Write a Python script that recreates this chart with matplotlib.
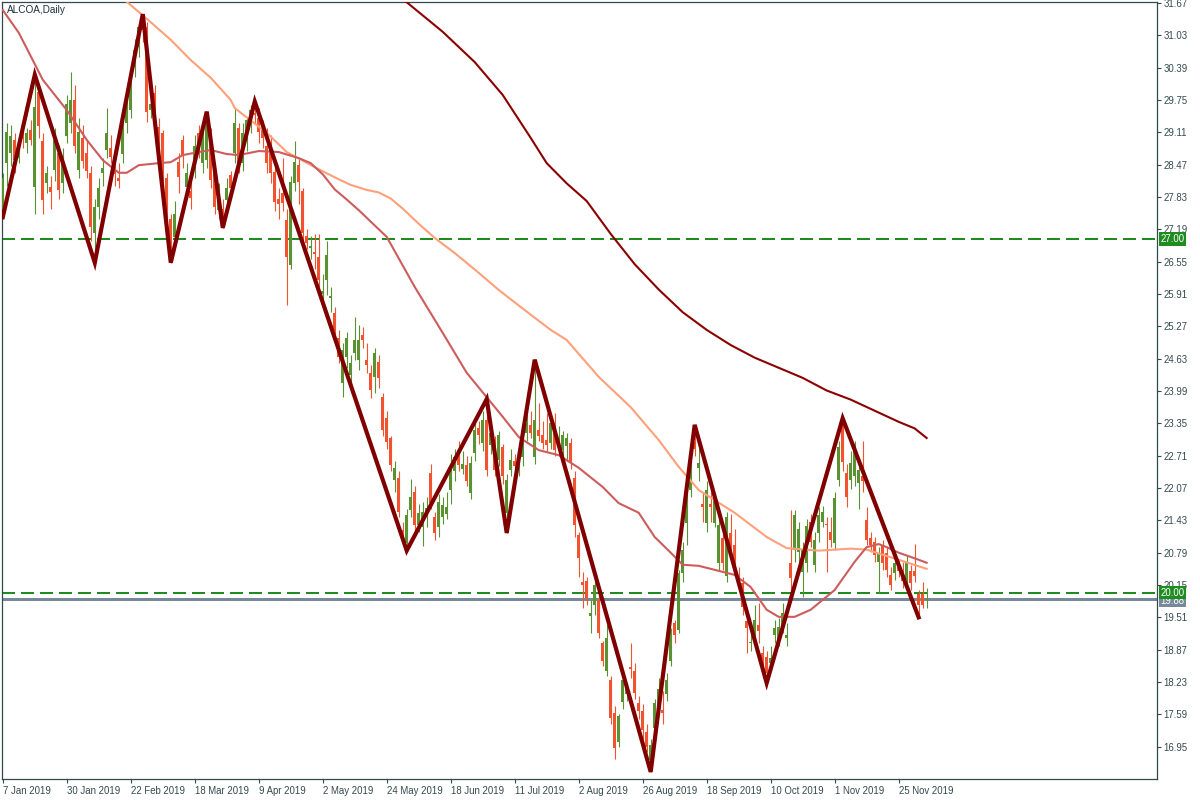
import numpy as np
import matplotlib
matplotlib.use("Agg")
import matplotlib.pyplot as plt

plt.rcParams["font.family"] = ["Liberation Sans", "DejaVu Sans"]

# ALCOA daily candles, bar 0 = 7 Jan 2019
opens = [
    27.60, 28.50, 28.70, 28.95, 28.60, 29.15, 28.90, 29.15, 28.03, 29.90,
    28.93, 28.10, 28.03, 28.36, 28.70, 28.10, 29.03, 29.30, 29.75, 28.36,
    29.00, 28.70, 28.30, 27.11, 27.64, 28.30, 28.76, 28.80, 28.40, 28.20,
    28.69, 29.30, 29.55, 30.41, 30.80, 31.33, 31.20, 29.55, 29.88, 29.22,
    29.09, 28.20, 27.40, 27.04, 28.53, 28.96, 28.03, 27.95, 28.36, 29.09,
    28.50, 28.56, 29.09, 28.30, 27.58, 27.60, 27.77, 28.26, 28.70, 29.20,
    28.50, 29.00, 29.30, 29.50, 29.40, 29.20, 28.83, 28.76, 28.33, 27.80,
    27.90, 27.38, 26.48, 28.10, 28.46, 27.94, 27.06, 26.82, 26.75, 26.65,
    25.92, 26.19, 25.83, 25.53, 25.03, 24.14, 24.67, 24.31, 24.74, 24.60,
    25.10, 24.60, 24.34, 24.27, 24.57, 23.88, 23.45, 23.05, 22.23, 22.26,
    21.24, 20.98, 21.64, 22.00, 21.34, 21.30, 21.60, 22.36, 21.50, 21.30,
    21.50, 21.55, 22.03, 22.40, 22.82, 22.45, 22.53, 21.97, 22.76, 23.25,
    22.96, 23.42, 22.92, 22.99, 22.63, 22.89, 21.57, 22.43, 22.60, 22.50,
    22.69, 23.15, 23.32, 22.69, 23.22, 23.12, 23.02, 22.96, 23.32, 22.90,
    22.83, 22.90, 22.96, 22.26, 21.14, 20.20, 20.22, 19.53, 19.76, 19.86,
    19.00, 18.44, 18.27, 17.61, 17.05, 17.84, 18.00, 18.52, 18.44, 17.81,
    17.65, 17.25, 16.69, 17.32, 17.70, 17.68, 18.00, 18.64, 19.40, 19.26,
    20.38, 21.37, 22.04, 22.99, 22.46, 21.75, 21.37, 21.75, 21.37, 20.58,
    21.08, 20.32, 21.17, 20.94, 20.32, 20.19, 19.43, 19.00, 19.20, 19.36,
    18.80, 18.73, 18.60, 19.16, 19.05, 19.33, 19.10, 20.58, 20.85, 20.80,
    20.41, 20.58, 21.40, 20.55, 21.17, 21.40, 21.36, 21.20, 20.98, 22.23,
    23.35, 22.36, 22.23, 22.30, 22.16, 22.30, 21.44, 21.08, 21.00, 20.61,
    20.94, 20.78, 20.35, 20.38, 20.50, 20.45, 20.25, 20.42, 20.43, 19.97,
    19.97, 19.86,
]
highs = [
    28.30, 29.30, 29.25, 29.10, 29.05, 29.30, 29.20, 29.35, 30.25, 30.05,
    29.10, 28.45, 28.25, 29.20, 28.85, 28.80, 29.85, 30.30, 30.05, 29.40,
    29.25, 28.95, 28.45, 27.80, 28.20, 28.60, 29.60, 29.05, 28.70, 28.50,
    29.60, 29.85, 30.25, 30.95, 31.30, 31.45, 31.30, 30.20, 30.05, 29.40,
    29.15, 28.30, 27.50, 27.75, 28.70, 29.05, 28.50, 28.20, 29.05, 29.25,
    29.35, 29.52, 29.20, 28.40, 28.10, 27.80, 28.20, 28.35, 29.60, 29.30,
    29.30, 29.40, 29.65, 29.72, 29.60, 29.35, 29.20, 29.05, 28.55, 28.00,
    28.60, 27.60, 28.25, 28.93, 28.60, 28.00, 27.20, 27.05, 27.10, 27.10,
    26.30, 26.95, 26.05, 25.65, 25.20, 24.95, 25.15, 24.70, 25.45, 25.30,
    25.25, 24.95, 24.50, 24.85, 24.70, 23.95, 23.60, 23.10, 22.60, 22.40,
    21.40, 21.65, 22.25, 22.10, 21.75, 21.80, 21.90, 22.55, 21.60, 21.95,
    21.90, 22.00, 22.75, 22.85, 23.00, 22.80, 22.70, 22.70, 23.35, 23.40,
    23.60, 23.83, 23.25, 23.10, 23.20, 22.95, 22.35, 22.85, 22.75, 22.80,
    23.20, 23.95, 23.60, 24.61, 23.75, 23.40, 23.55, 23.45, 23.55, 23.30,
    23.20, 23.15, 23.05, 22.40, 21.20, 20.40, 20.30, 19.85, 20.30, 19.95,
    19.05, 19.35, 18.35, 17.75, 17.60, 18.35, 18.20, 19.00, 18.60, 17.95,
    17.80, 17.40, 17.10, 17.90, 18.30, 18.05, 18.40, 19.30, 19.45, 20.45,
    21.00, 22.05, 22.60, 23.32, 22.90, 22.00, 22.20, 22.10, 21.95, 21.45,
    21.30, 21.60, 21.55, 21.25, 20.50, 20.30, 19.55, 19.20, 19.75, 19.80,
    18.95, 18.85, 18.95, 19.45, 19.50, 19.80, 19.40, 21.64, 21.64, 21.40,
    21.00, 21.45, 21.55, 21.20, 21.70, 21.72, 21.50, 21.50, 22.00, 23.00,
    23.45, 22.55, 22.80, 23.00, 22.55, 23.00, 21.70, 21.20, 21.10, 20.90,
    21.05, 20.90, 20.50, 20.70, 20.65, 20.60, 20.75, 20.55, 20.97, 20.05,
    20.20, 20.10,
]
lows = [
    27.47, 28.05, 28.45, 28.30, 28.50, 28.80, 28.70, 28.85, 27.50, 29.00,
    27.50, 27.90, 27.60, 28.15, 27.80, 27.90, 28.90, 29.10, 28.70, 28.20,
    28.40, 28.20, 26.95, 26.53, 27.40, 28.05, 28.60, 28.50, 28.05, 28.00,
    28.50, 29.10, 29.40, 30.20, 30.60, 30.90, 29.32, 29.40, 29.10, 28.50,
    28.00, 27.10, 26.53, 26.90, 27.90, 28.40, 27.80, 27.60, 28.20, 28.60,
    28.30, 28.40, 28.00, 27.50, 27.40, 27.22, 27.60, 27.80, 28.50, 28.30,
    28.35, 28.75, 29.10, 29.30, 28.90, 28.80, 28.30, 28.10, 27.55, 27.40,
    27.55, 25.69, 26.40, 27.95, 27.70, 26.95, 26.80, 26.60, 26.40, 26.05,
    25.70, 25.90, 25.55, 25.00, 24.55, 23.88, 24.45, 24.10, 24.60, 24.40,
    24.85, 24.35, 23.85, 23.95, 24.05, 23.10, 22.85, 22.40, 22.00, 21.50,
    21.05, 20.83, 21.50, 21.20, 21.20, 20.92, 21.30, 21.65, 21.05, 21.10,
    21.35, 21.45, 21.75, 22.20, 22.40, 22.35, 22.10, 21.85, 22.60, 22.95,
    22.80, 22.30, 22.75, 22.30, 22.50, 22.15, 21.18, 22.30, 22.40, 22.30,
    22.50, 23.00, 23.05, 22.55, 23.00, 22.85, 22.80, 22.85, 22.70, 22.75,
    22.70, 22.60, 22.45, 21.10, 20.30, 19.70, 19.75, 19.20, 19.55, 19.10,
    18.55, 18.35, 17.40, 16.70, 16.95, 17.70, 17.85, 18.30, 17.90, 17.50,
    17.10, 16.85, 16.45, 17.20, 17.60, 17.40, 17.85, 18.55, 19.00, 19.20,
    20.20, 20.95, 21.90, 22.70, 22.20, 21.40, 21.20, 21.40, 21.30, 20.45,
    20.45, 20.20, 20.80, 20.45, 20.05, 19.55, 18.80, 18.85, 19.05, 19.00,
    18.45, 18.21, 18.45, 19.00, 18.95, 19.20, 18.95, 20.05, 20.60, 20.60,
    19.92, 20.40, 20.90, 20.40, 21.00, 21.30, 20.40, 20.90, 20.85, 22.10,
    22.40, 21.70, 22.05, 22.10, 21.65, 22.00, 20.95, 20.80, 20.60, 20.00,
    20.45, 20.30, 20.05, 20.25, 20.30, 20.10, 20.15, 20.05, 20.20, 19.51,
    19.70, 19.70,
]
closes = [
    28.20, 29.12, 29.03, 28.56, 28.85, 28.98, 29.10, 28.96, 29.62, 29.24,
    27.77, 28.30, 27.93, 28.96, 27.97, 28.63, 29.68, 29.75, 28.83, 29.12,
    28.55, 28.35, 27.24, 27.64, 28.00, 28.40, 29.09, 28.62, 28.28, 28.15,
    29.42, 29.62, 30.08, 30.74, 31.20, 31.13, 29.52, 29.68, 29.29, 28.70,
    28.23, 27.40, 26.90, 27.50, 28.23, 28.66, 28.30, 27.82, 28.83, 28.83,
    29.03, 29.29, 28.17, 27.64, 27.94, 27.50, 28.00, 28.00, 29.29, 28.50,
    29.10, 29.35, 29.55, 29.45, 29.12, 29.00, 28.50, 28.30, 27.74, 27.70,
    27.72, 26.65, 28.13, 28.53, 28.13, 27.11, 26.91, 26.87, 26.70, 26.19,
    25.96, 26.68, 25.87, 25.17, 24.67, 24.80, 25.03, 24.54, 25.00, 25.00,
    25.00, 24.50, 24.01, 24.74, 24.24, 23.22, 22.99, 22.53, 22.46, 21.60,
    21.17, 21.54, 21.90, 21.34, 21.57, 21.60, 21.68, 21.77, 21.17, 21.80,
    21.73, 21.70, 22.43, 22.69, 22.53, 22.55, 22.20, 22.56, 23.22, 23.12,
    23.42, 22.43, 23.15, 22.43, 23.12, 22.30, 22.23, 22.63, 22.50, 22.65,
    23.02, 23.35, 23.15, 23.42, 23.09, 22.96, 22.92, 23.35, 22.83, 23.00,
    23.12, 23.05, 22.56, 21.34, 20.68, 20.15, 19.89, 19.59, 20.15, 19.20,
    18.64, 19.10, 17.51, 16.92, 17.55, 18.27, 18.10, 18.48, 18.01, 17.65,
    17.28, 16.95, 16.99, 17.81, 18.10, 17.62, 18.27, 19.26, 19.16, 20.38,
    20.84, 21.97, 22.53, 22.85, 22.56, 21.70, 22.03, 21.70, 21.90, 21.34,
    20.58, 21.50, 20.91, 20.58, 20.19, 19.72, 19.29, 19.03, 19.46, 19.23,
    18.50, 18.40, 18.70, 19.29, 19.32, 19.59, 19.16, 20.28, 21.54, 21.25,
    20.85, 21.31, 21.00, 21.04, 21.54, 21.60, 21.33, 21.05, 21.87, 22.89,
    22.59, 21.90, 22.56, 22.95, 22.43, 22.20, 21.04, 20.94, 20.75, 20.78,
    20.58, 20.45, 20.15, 20.58, 20.43, 20.22, 20.61, 20.19, 20.33, 19.76,
    19.76, 19.88,
]

# moving averages (bar index, price)
ma_slow_bars = [100, 110, 118, 125, 132, 136, 141, 146, 152, 158, 164, 170,
                176, 182, 188, 194, 200, 206, 212, 218, 224, 228, 231]
ma_slow_vals = [31.75, 31.10, 30.50, 29.85, 29.00, 28.50, 28.10, 27.75, 27.10,
                26.50, 26.00, 25.55, 25.20, 24.90, 24.65, 24.45, 24.25, 24.00,
                23.82, 23.60, 23.38, 23.25, 23.06]
ma_mid_bars = [29, 37, 42, 47, 52, 57, 58, 66, 71, 78, 84, 87, 91, 94, 97, 100,
               104, 108, 113, 119, 124, 132, 137, 141, 149, 157, 164, 169, 174,
               183, 191, 196, 204, 212, 216, 220, 224, 231]
ma_mid_vals = [31.83, 31.29, 30.94, 30.54, 30.19, 29.75, 29.59, 29.10, 28.72,
               28.42, 28.18, 28.07, 27.97, 27.92, 27.80, 27.60, 27.30, 27.02,
               26.72, 26.33, 25.99, 25.50, 25.20, 25.00, 24.27, 23.67, 23.02,
               22.49, 22.03, 21.58, 21.10, 20.88, 20.83, 20.87, 20.85, 20.75,
               20.65, 20.47]
ma_fast_bars = [0, 4, 10, 16, 21, 25, 29, 31, 34, 39, 42, 45, 49, 52, 56, 59,
                64, 69, 74, 77, 80, 83, 86, 89, 96, 103, 110, 116, 125, 129,
                134, 139, 144, 150, 154, 159, 163, 167, 170, 174, 183, 187,
                191, 194, 198, 202, 208, 213, 216, 219, 221, 224, 229, 231]
ma_fast_vals = [31.53, 31.08, 30.15, 29.55, 28.96, 28.56, 28.31, 28.31, 28.46,
                28.50, 28.52, 28.66, 28.72, 28.76, 28.68, 28.66, 28.74, 28.72,
                28.60, 28.50, 28.28, 27.98, 27.78, 27.57, 27.04, 26.05, 25.14,
                24.35, 23.48, 23.08, 22.82, 22.72, 22.47, 22.09, 21.77, 21.58,
                21.10, 20.79, 20.55, 20.53, 20.35, 20.11, 19.66, 19.52, 19.52,
                19.66, 20.05, 20.61, 20.90, 20.96, 20.90, 20.79, 20.65, 20.59]

# zigzag turning points
zz_bars = [0, 8, 23, 35, 42, 51, 55, 63, 101, 121, 126, 133, 162, 173, 191, 210, 229]
zz_vals = [27.43, 30.25, 26.53, 31.45, 26.53, 29.52, 27.22, 29.72, 20.83,
           23.83, 21.18, 24.61, 16.45, 23.32, 18.21, 23.45, 19.51]

levels = [27.00, 20.00]
bid = 19.88

tick_bars = list(range(0, 225, 16))
tick_labels = ["7 Jan 2019", "30 Jan 2019", "22 Feb 2019", "18 Mar 2019",
               "9 Apr 2019", "2 May 2019", "24 May 2019", "18 Jun 2019",
               "11 Jul 2019", "2 Aug 2019", "26 Aug 2019", "18 Sep 2019",
               "10 Oct 2019", "1 Nov 2019", "25 Nov 2019"]
price_ticks = [31.67, 31.03, 30.39, 29.75, 29.11, 28.47, 27.83, 27.19, 26.55,
               25.91, 25.27, 24.63, 23.99, 23.35, 22.71, 22.07, 21.43, 20.79,
               20.15, 19.51, 18.87, 18.23, 17.59, 16.95]

UP = "#5a9232"
DOWN = "#f2522e"
FRAME = "#34494b"
LVL = "#1f8c1f"
FS = 6.9

o = np.array(opens); h = np.array(highs); l = np.array(lows); c = np.array(closes)
x = np.arange(len(o))
col = np.where(c >= o, UP, DOWN)

fig = plt.figure(figsize=(12, 8), dpi=100)
ax = fig.add_axes([2 / 1200, 21 / 800, 1155 / 1200, 777 / 800])

for lv in levels:
    ax.axhline(lv, color=LVL, lw=1.1, linestyle=(0, (8.5, 4.3)),
               antialiased=False, zorder=1)
ax.axhline(bid, color="#778899", lw=0.8, antialiased=False, zorder=1)

ax.vlines(x, l, h, colors=col, lw=0.8, zorder=2)
ax.bar(x, np.maximum(np.abs(c - o), 0.02), bottom=np.minimum(o, c),
       width=0.68, color=col, linewidth=0, zorder=3)

ax.plot(ma_slow_bars, ma_slow_vals, color="#8b0000", lw=1.5, zorder=4)
ax.plot(ma_mid_bars, ma_mid_vals, color="#ffa07a", lw=1.5, zorder=4)
ax.plot(ma_fast_bars, ma_fast_vals, color="#cd5c5c", lw=1.5, zorder=4)
ax.plot(zz_bars, zz_vals, color="#800000", lw=3, solid_joinstyle="miter", zorder=5)

ax.set_xlim(-0.2, 288.6)
ax.set_ylim(16.31, 31.69)

ax.yaxis.tick_right()
ax.set_yticks(price_ticks)
ax.set_yticklabels([f"{v:.2f}" for v in price_ticks])
ax.set_xticks(tick_bars)
ax.set_xticklabels(tick_labels)
for t in ax.get_xticklabels():
    t.set_ha("left")
ax.tick_params(axis="both", direction="out", length=3, width=0.8,
               color=FRAME, labelcolor=FRAME, labelsize=FS)
ax.tick_params(axis="y", pad=1.5)
ax.tick_params(axis="x", pad=2)
for s in ax.spines.values():
    s.set_color(FRAME)
    s.set_linewidth(0.9)

# price boxes on the scale
ytr = ax.get_yaxis_transform()
ax.annotate(f"{bid:.2f}", xy=(1, bid), xycoords=ytr, xytext=(2.5, -1.5),
            textcoords="offset points", ha="left", va="center", fontsize=FS,
            color="white", annotation_clip=False, zorder=6,
            bbox=dict(boxstyle="square,pad=0.18", fc="#778899", ec="none"))
for lv in levels:
    ax.annotate(f"{lv:.2f}", xy=(1, lv), xycoords=ytr, xytext=(2.5, 0),
                textcoords="offset points", ha="left", va="center", fontsize=FS,
                color="white", annotation_clip=False, zorder=7,
                bbox=dict(boxstyle="square,pad=0.18", fc=LVL, ec="none"))

ax.annotate("ALCOA,Daily", xy=(0, 1), xycoords="axes fraction", xytext=(3.5, -2),
            textcoords="offset points", ha="left", va="top", fontsize=7.2,
            color="#1f3133")

fig.savefig("out.png", dpi=100)
